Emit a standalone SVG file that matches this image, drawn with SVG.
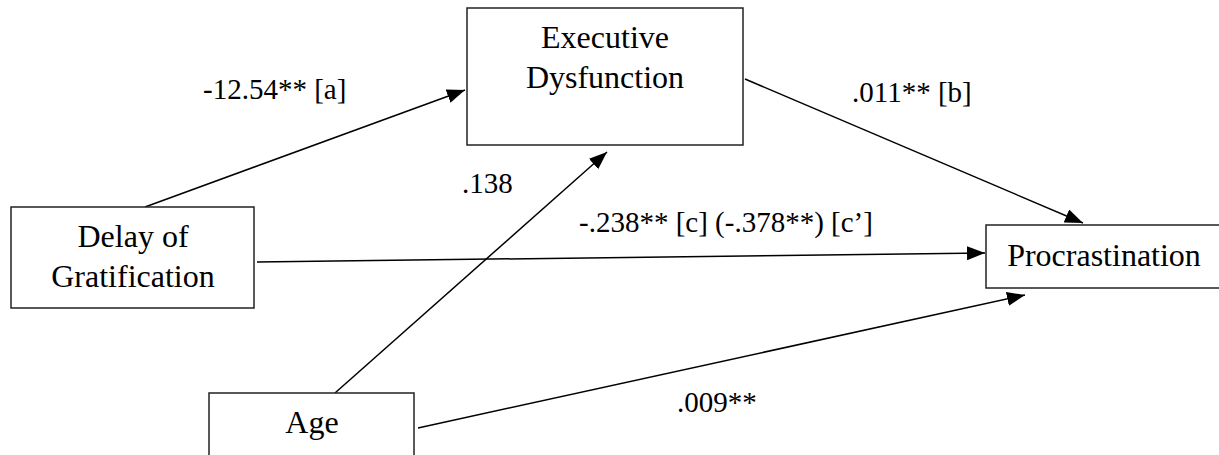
<svg xmlns="http://www.w3.org/2000/svg" width="1219" height="455" viewBox="0 0 1219 455">
  <style>
    .box { fill: #ffffff; stroke: #222222; stroke-width: 1.5; }
    .node-text { font-family: "Liberation Serif", "Times New Roman", serif; font-size: 32px; fill: #000000; text-anchor: middle; }
    .label { font-family: "Liberation Serif", "Times New Roman", serif; font-size: 29px; fill: #000000; }
    .edge { stroke: #000000; stroke-width: 1.5; fill: none; marker-end: url(#arrow); }
  </style>
  <defs>
    <marker id="arrow" markerUnits="userSpaceOnUse" markerWidth="19" markerHeight="15" refX="18" refY="7" orient="auto">
      <path d="M0,0 L18,7 L0,14 z" fill="#000000"/>
    </marker>
  </defs>
  <rect width="1219" height="455" fill="#ffffff"/>
  <g id="connectors">
    <line class="edge" x1="145" y1="207" x2="465" y2="90"/>
    <line class="edge" x1="745" y1="79" x2="1083" y2="223"/>
    <line class="edge" x1="257" y1="262" x2="985" y2="253"/>
    <line class="edge" x1="335" y1="393" x2="607" y2="152"/>
    <line class="edge" x1="418" y1="428" x2="1025" y2="295"/>
  </g>
  <g id="node-executive">
    <rect class="box" x="467" y="8" width="276" height="137"/>
    <text class="node-text" x="605" y="48">Executive</text>
    <text class="node-text" x="605" y="88">Dysfunction</text>
  </g>
  <g id="node-delay">
    <rect class="box" x="11" y="207" width="243" height="101"/>
    <text class="node-text" x="133" y="247">Delay of</text>
    <text class="node-text" x="133" y="287">Gratification</text>
  </g>
  <g id="node-procrastination">
    <rect class="box" x="986" y="225" width="240" height="63"/>
    <text class="node-text" x="1104" y="266">Procrastination</text>
  </g>
  <g id="node-age">
    <rect class="box" x="209" y="393" width="205" height="70"/>
    <text class="node-text" x="312" y="433">Age</text>
  </g>
  <g id="labels">
    <text class="label" x="203" y="99">-12.54** [a]</text>
    <text class="label" x="852" y="102">.011** [b]</text>
    <text class="label" x="462" y="193">.138</text>
    <text class="label" x="579" y="232">-.238** [c] (-.378**) [c’]</text>
    <text class="label" x="677" y="412">.009**</text>
  </g>
</svg>
